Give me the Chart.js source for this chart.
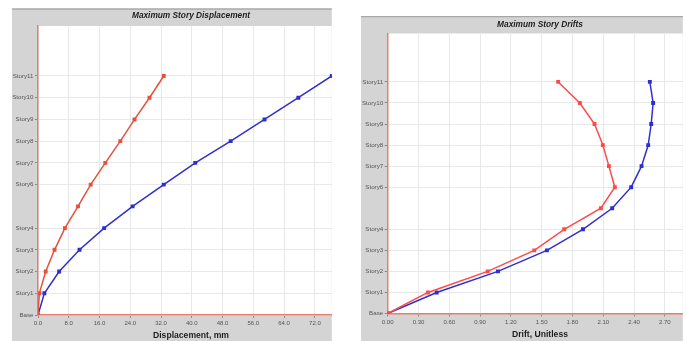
<!DOCTYPE html>
<html>
<head>
<meta charset="utf-8">
<script src="https://cdn.jsdelivr.net/npm/chart.js@4"></script>
<style>
  html, body { margin: 0; padding: 0; background: #fff; }
  body { width: 686px; height: 341px; position: relative; overflow: hidden; }
  .panel { position: absolute; }
  #dispBox { left: 12px; top: 8px; width: 323px; height: 333px; }
  #driftBox { left: 361px; top: 16px; width: 325px; height: 325px; }
</style>
</head>
<body>
<div class="panel" id="dispBox"><canvas id="dispChart"></canvas></div>
<div class="panel" id="driftBox"><canvas id="driftChart"></canvas></div>
<script>
// 楼层
const stories = ['Base', 'Story1', 'Story2', 'Story3', 'Story4', 'Story5', 'Story6', 'Story7', 'Story8', 'Story9', 'Story10', 'Story11'];
const storyLevels = [0, 1, 2, 3, 4, 5, 6, 7, 8, 9, 10, 11];
// Story5 has no label in the original
const labelledLevels = [0, 1, 2, 3, 4, 6, 7, 8, 9, 10, 11];

// 位移 mm
const dispRed = [0, 0.35, 2.0, 4.3, 7.0, 10.4, 13.7, 17.5, 21.4, 25.1, 29.0, 32.7];
const dispBlue = [0, 1.65, 5.5, 10.8, 17.2, 24.6, 32.7, 40.9, 50.1, 58.9, 67.7, 76.4];

// 层间位移角
const driftRed = [0, 0.392, 0.974, 1.428, 1.72, 2.077, 2.213, 2.155, 2.096, 2.015, 1.872, 1.661];
const driftBlue = [0, 0.477, 1.074, 1.551, 1.902, 2.187, 2.372, 2.473, 2.538, 2.567, 2.586, 2.554];

const FONT = '"Liberation Sans", Arial, sans-serif';

function points(values) {
  return values.map((v, i) => ({ x: v, y: storyLevels[i] }));
}

function series(values, color) {
  return {
    data: points(values),
    borderColor: color,
    backgroundColor: color,
    borderWidth: 1.5,
    pointStyle: 'rect',
    pointRadius: 1.7,
    pointHoverRadius: 1.7,
    tension: 0
  };
}

// 画面板背景和标题
const panelPlugin = {
  id: 'panelFrame',
  beforeDraw(chart, args, opts) {
    const { ctx, chartArea: a, height } = chart;
    ctx.save();
    ctx.fillStyle = '#d4d4d4';
    ctx.fillRect(0, 0, a.right, height);
    ctx.fillStyle = '#a6a6a6';
    ctx.fillRect(0, opts.lineY, a.right, 1.2);
    ctx.fillStyle = '#ffffff';
    ctx.fillRect(a.left, a.top, a.right - a.left, a.bottom - a.top);
    ctx.restore();
  },
  afterDraw(chart, args, opts) {
    const ctx = chart.ctx;
    ctx.save();
    ctx.fillStyle = '#1e1e1e';
    ctx.textAlign = 'center';
    ctx.textBaseline = 'middle';
    ctx.font = 'italic bold 8.3px ' + FONT;
    ctx.fillText(opts.title, opts.titleX, opts.titleY);
    ctx.font = 'bold 8.6px ' + FONT;
    ctx.fillText(opts.axisTitle, opts.titleX, opts.axisTitleY);
    ctx.restore();
  }
};

function makeChart(canvas, cfg) {
  return new Chart(canvas.getContext('2d'), {
    type: 'line',
    data: {
      datasets: [series(cfg.red, cfg.redColor), series(cfg.blue, '#2f2fcf')]
    },
    options: {
      responsive: true,
      maintainAspectRatio: false,
      animation: false,
      layout: { padding: { top: cfg.top, right: 0, left: 0, bottom: 0 } },
      plugins: {
        legend: { display: false },
        tooltip: { enabled: false },
        panelFrame: {
          title: cfg.title,
          axisTitle: cfg.axisTitle,
          titleX: cfg.titleX,
          titleY: cfg.titleY,
          axisTitleY: cfg.axisTitleY,
          lineY: cfg.lineY
        }
      },
      scales: {
        x: {
          type: 'linear',
          min: 0,
          max: cfg.xMax,
          afterFit: (s) => { s.height = cfg.xAxisHeight; },
          border: { color: '#e5806f', width: 1.5 },
          grid: { color: '#e8e8e8', tickColor: '#8a8a8a', tickLength: 3, lineWidth: 1 },
          ticks: {
            stepSize: cfg.xStep,
            includeBounds: false,
            autoSkip: false,
            maxRotation: 0,
            padding: 2,
            color: '#555',
            font: { family: FONT, size: 6 },
            callback: (v) => Number(v).toFixed(cfg.decimals)
          }
        },
        y: {
          type: 'linear',
          min: 0,
          max: 13.3,
          afterFit: (s) => { s.width = cfg.yAxisWidth; },
          afterBuildTicks: (s) => { s.ticks = labelledLevels.map(v => ({ value: v })); },
          border: { color: '#e5806f', width: 1.5 },
          grid: { color: '#e8e8e8', tickColor: '#8a8a8a', tickLength: 3, lineWidth: 1 },
          ticks: {
            autoSkip: false,
            padding: 1.5,
            color: '#555',
            font: { family: FONT, size: 6.2 },
            callback: (v) => stories[v]
          }
        }
      }
    },
    plugins: [panelPlugin]
  });
}

makeChart(document.getElementById('dispChart'), {
  red: dispRed,
  blue: dispBlue,
  redColor: '#e8503c',
  title: 'Maximum Story Displacement',
  axisTitle: 'Displacement, mm',
  xMax: 76.4,
  xStep: 8,
  decimals: 1,
  top: 18,
  yAxisWidth: 26,
  xAxisHeight: 26,
  titleX: 179,
  titleY: 8,
  axisTitleY: 328,
  lineY: 0.5
});

makeChart(document.getElementById('driftChart'), {
  red: driftRed,
  blue: driftBlue,
  redColor: '#ff4a4a',
  title: 'Maximum Story Drifts',
  axisTitle: 'Drift, Unitless',
  xMax: 2.875,
  xStep: 0.3,
  decimals: 2,
  top: 17.5,
  yAxisWidth: 26.7,
  xAxisHeight: 27.5,
  titleX: 179,
  titleY: 9,
  axisTitleY: 319,
  lineY: 0
});
</script>
</body>
</html>
